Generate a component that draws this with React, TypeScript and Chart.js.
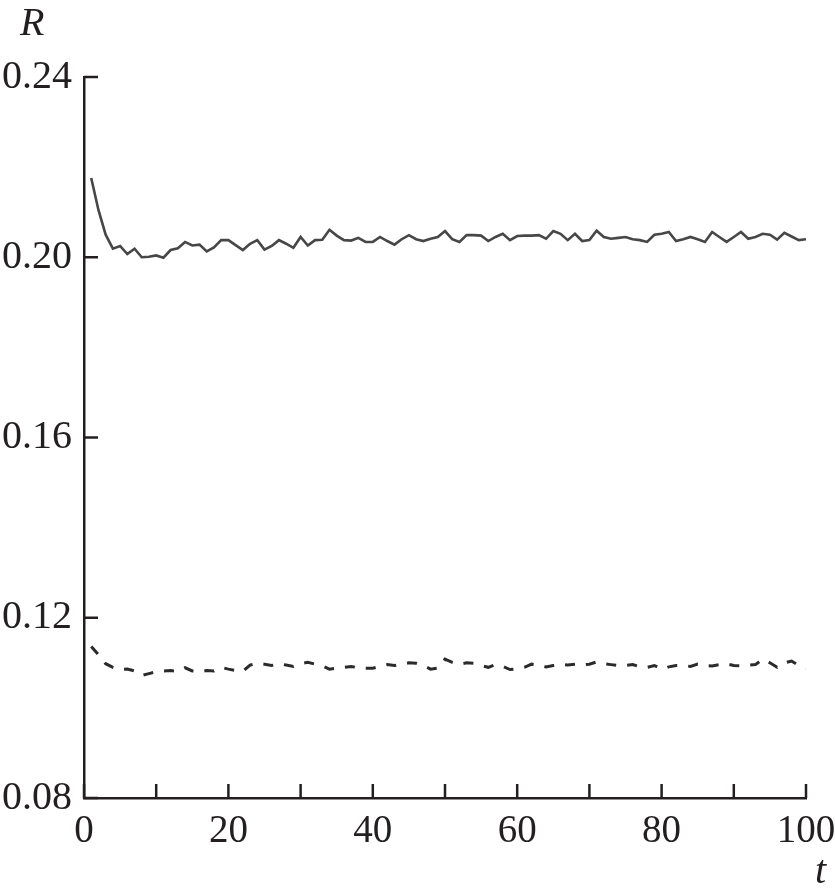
import React, { useEffect, useRef } from "react";
import { Chart, registerables } from "chart.js";

Chart.register(...registerables);

const T: number[] = [
  1, 2, 3, 4, 5, 6, 7, 8, 9, 10, 11, 12, 13, 14, 15, 16, 17, 18, 19, 20,
  21, 22, 23, 24, 25, 26, 27, 28, 29, 30, 31, 32, 33, 34, 35, 36, 37, 38, 39, 40,
  41, 42, 43, 44, 45, 46, 47, 48, 49, 50, 51, 52, 53, 54, 55, 56, 57, 58, 59, 60,
  61, 62, 63, 64, 65, 66, 67, 68, 69, 70, 71, 72, 73, 74, 75, 76, 77, 78, 79, 80,
  81, 82, 83, 84, 85, 86, 87, 88, 89, 90, 91, 92, 93, 94, 95, 96, 97, 98, 99, 100,
];

const R_SOLID: number[] = [
  0.2176, 0.2105, 0.2050, 0.2019, 0.2025, 0.2007, 0.2019, 0.2000, 0.2001, 0.2004,
  0.1999, 0.2016, 0.2020, 0.2034, 0.2026, 0.2028, 0.2013, 0.2022, 0.2038, 0.2038,
  0.2027, 0.2016, 0.2030, 0.2038, 0.2017, 0.2025, 0.2038, 0.2030, 0.2021, 0.2045,
  0.2026, 0.2038, 0.2039, 0.2061, 0.2048, 0.2038, 0.2037, 0.2043, 0.2034, 0.2034,
  0.2045, 0.2036, 0.2028, 0.2040, 0.2049, 0.2040, 0.2036, 0.2041, 0.2045, 0.2058,
  0.2040, 0.2034, 0.2049, 0.2049, 0.2048, 0.2036, 0.2045, 0.2052, 0.2038, 0.2047,
  0.2048, 0.2048, 0.2049, 0.2041, 0.2058, 0.2052, 0.2038, 0.2052, 0.2036, 0.2038,
  0.2059, 0.2045, 0.2041, 0.2043, 0.2045, 0.2040, 0.2038, 0.2034, 0.2050, 0.2052,
  0.2056, 0.2036, 0.2040, 0.2045, 0.2040, 0.2034, 0.2056, 0.2045, 0.2034, 0.2045,
  0.2056, 0.2041, 0.2045, 0.2052, 0.2050, 0.2039, 0.2054, 0.2046, 0.2038, 0.2040,
];

const R_DASHED: number[] = [
  0.1136, 0.1118, 0.1098, 0.1090, 0.1085, 0.1086, 0.1082, 0.1072, 0.1076, 0.1080,
  0.1082, 0.1083, 0.1081, 0.1089, 0.1082, 0.1080, 0.1083, 0.1082, 0.1090, 0.1086,
  0.1083, 0.1081, 0.1095, 0.1099, 0.1097, 0.1094, 0.1098, 0.1095, 0.1092, 0.1098,
  0.1101, 0.1097, 0.1093, 0.1086, 0.1088, 0.1090, 0.1092, 0.1089, 0.1088, 0.1088,
  0.1092, 0.1096, 0.1094, 0.1097, 0.1100, 0.1099, 0.1094, 0.1086, 0.1088, 0.1108,
  0.1101, 0.1097, 0.1100, 0.1099, 0.1094, 0.1090, 0.1096, 0.1092, 0.1085, 0.1087,
  0.1090, 0.1097, 0.1095, 0.1091, 0.1094, 0.1097, 0.1095, 0.1097, 0.1095, 0.1097,
  0.1102, 0.1098, 0.1096, 0.1094, 0.1094, 0.1096, 0.1091, 0.1090, 0.1094, 0.1086,
  0.1091, 0.1094, 0.1094, 0.1092, 0.1097, 0.1094, 0.1093, 0.1096, 0.1098, 0.1094,
  0.1093, 0.1095, 0.1096, 0.1108, 0.1100, 0.1090, 0.1100, 0.1104, 0.1094, 0.1088,
];

const X_MIN = 0;
const X_MAX = 100;
const X_STEP = 10;
const X_LABEL_EVERY = 20;
const Y_MIN = 0.08;
const Y_MAX = 0.24;
const Y_STEP = 0.04;
const Y_TITLE = "R";
const X_TITLE = "t";

const INK = "#231f20";
const FONT = "'Liberation Serif', 'Times New Roman', serif";

const innerTicks = {
  id: "innerTicks",
  afterDraw(chart: any) {
    const { ctx, chartArea, scales } = chart;
    const xs = scales.x;
    const ys = scales.y;
    ctx.save();
    ctx.strokeStyle = INK;
    ctx.lineWidth = 2.5;
    xs.ticks.forEach((t: any) => {
      const px = xs.getPixelForValue(t.value);
      ctx.beginPath();
      ctx.moveTo(px, chartArea.bottom);
      ctx.lineTo(px, chartArea.bottom - 14);
      ctx.stroke();
    });
    ys.ticks.forEach((t: any) => {
      const py = ys.getPixelForValue(t.value);
      ctx.beginPath();
      ctx.moveTo(chartArea.left, py);
      ctx.lineTo(chartArea.left + 14, py);
      ctx.stroke();
    });
    ctx.fillStyle = INK;
    ctx.textAlign = "left";
    ctx.textBaseline = "alphabetic";
    ctx.font = `italic 40px ${FONT}`;
    ctx.fillText(Y_TITLE, 20, 35);
    ctx.font = `italic 40px ${FONT}`;
    ctx.fillText(X_TITLE, 815, 883);
    ctx.restore();
  },
};

export default function App() {
  const ref = useRef<HTMLCanvasElement | null>(null);

  useEffect(() => {
    if (!ref.current) return;
    const chart = new Chart(ref.current, {
      type: "line",
      data: {
        datasets: [
          {
            label: "solid",
            data: T.map((t, i) => ({ x: t, y: R_SOLID[i] })),
            borderColor: "#474747",
            borderWidth: 2.6,
            pointRadius: 0,
            tension: 0,
            fill: false,
          },
          {
            label: "dashed",
            data: T.map((t, i) => ({ x: t, y: R_DASHED[i] })),
            borderColor: "#2b2b2b",
            borderWidth: 3,
            borderDash: [10, 11],
            pointRadius: 0,
            tension: 0,
            fill: false,
          },
        ],
      },
      options: {
        animation: false,
        responsive: false,
        maintainAspectRatio: false,
        layout: { padding: { left: 0, top: 77, right: 29, bottom: 0 } },
        plugins: { legend: { display: false }, tooltip: { enabled: false }, title: { display: false } },
        scales: {
          x: {
            type: "linear",
            min: X_MIN,
            max: X_MAX,
            ticks: {
              stepSize: X_STEP,
              autoSkip: false,
              maxRotation: 0,
              padding: 10,
              color: INK,
              font: { family: FONT, size: 39 },
              callback: (v: any) => (Number(v) % X_LABEL_EVERY === 0 ? String(v) : ""),
            },
            grid: { display: false, drawTicks: false },
            border: { display: true, color: INK, width: 2.5 },
            afterFit: (s: any) => {
              s.height = 97;
              s.paddingLeft = 0;
              s.paddingRight = 0;
            },
          },
          y: {
            type: "linear",
            min: Y_MIN,
            max: Y_MAX,
            ticks: {
              stepSize: Y_STEP,
              autoSkip: false,
              padding: 12,
              color: INK,
              font: { family: FONT, size: 40 },
              callback: (v: any) => Number(v).toFixed(2),
            },
            grid: { display: false, drawTicks: false },
            border: { display: true, color: INK, width: 2.5 },
            afterFit: (s: any) => {
              s.width = 84;
              s.paddingTop = 0;
              s.paddingBottom = 0;
            },
          },
        },
      },
      plugins: [innerTicks],
    });
    return () => chart.destroy();
  }, []);

  return (
    <div style={{ position: "absolute", left: 0, top: 0, width: 835, height: 895, background: "#fff" }}>
      <canvas ref={ref} width={835} height={895} style={{ display: "block", width: 835, height: 895 }} />
    </div>
  );
}
